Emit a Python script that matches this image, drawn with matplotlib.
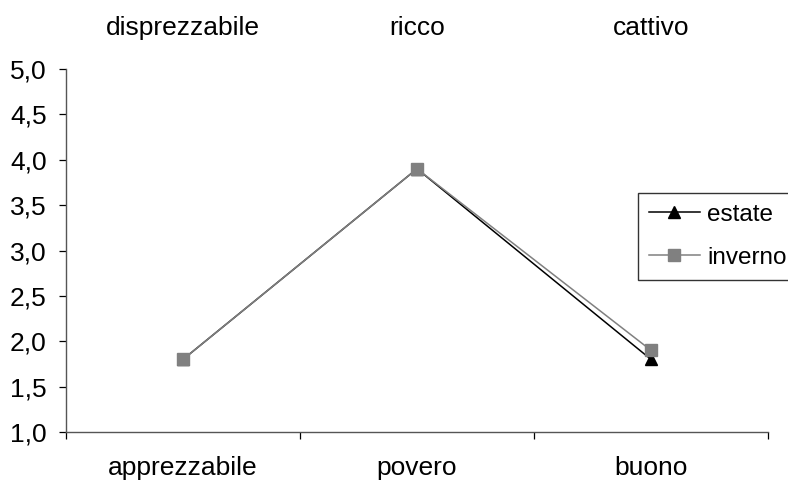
import matplotlib
matplotlib.use("Agg")
import matplotlib.pyplot as plt

plt.rcParams['font.family'] = ['Liberation Sans', 'DejaVu Sans']

# Semantic differential: bottom (left pole) and top (right pole) labels
low_labels = ["apprezzabile", "povero", "buono"]
high_labels = ["disprezzabile", "ricco", "cattivo"]
estate = [1.8, 3.9, 1.8]
inverno = [1.8, 3.9, 1.9]
y_ticks = [1.0, 1.5, 2.0, 2.5, 3.0, 3.5, 4.0, 4.5, 5.0]

FS = 19

fig = plt.figure(figsize=(7.88, 4.82), dpi=100)
ax = fig.add_axes([66/788, 50/482, 702/788, 363/482])

x = list(range(len(low_labels)))
ax.plot(x, estate, color="black", lw=1.1, marker="^", ms=8.5,
        mfc="black", mec="black", label="estate", zorder=3)
ax.plot(x, inverno, color="#808080", lw=1.1, marker="s", ms=8,
        mfc="#808080", mec="#808080", label="inverno", zorder=4)

ax.set_xlim(-0.5, len(x) - 0.5)
ax.set_ylim(1.0, 5.0)
ax.set_yticks(y_ticks)
ax.set_yticklabels([f"{v:.1f}".replace(".", ",") for v in y_ticks])

# category boundaries carry tick marks; labels sit at the centres
ax.set_xticks([i + 0.5 for i in range(-1, len(x))])
ax.set_xticklabels([])
ax.set_xticks(x, minor=True)
ax.set_xticklabels(low_labels, minor=True)
ax.tick_params(axis="x", which="minor", length=0, pad=17, labelsize=FS)
ax.tick_params(axis="x", which="major", length=5, width=0.9, direction="out", color="black")
ax.tick_params(axis="y", length=5, width=0.9, direction="out", pad=9, labelsize=FS, color="black")

for side in ("top", "right"):
    ax.spines[side].set_visible(False)
for side in ("left", "bottom"):
    ax.spines[side].set_color("#555555")
    ax.spines[side].set_linewidth(1.0)

top = ax.twiny()
top.set_xlim(ax.get_xlim())
top.set_xticks(x)
top.set_xticklabels(high_labels)
top.tick_params(axis="x", length=0, pad=21, labelsize=FS)
for s in top.spines.values():
    s.set_visible(False)

leg = fig.legend(loc="upper left", bbox_to_anchor=(638/788, 1 - 193/482),
                 borderaxespad=0, fontsize=17.5, frameon=True, fancybox=False,
                 edgecolor="black", handlelength=2.1, handletextpad=0.3,
                 labelspacing=0.85, borderpad=0.45)
leg.get_frame().set_linewidth(1.0)

fig.savefig("out.png", dpi=100)
